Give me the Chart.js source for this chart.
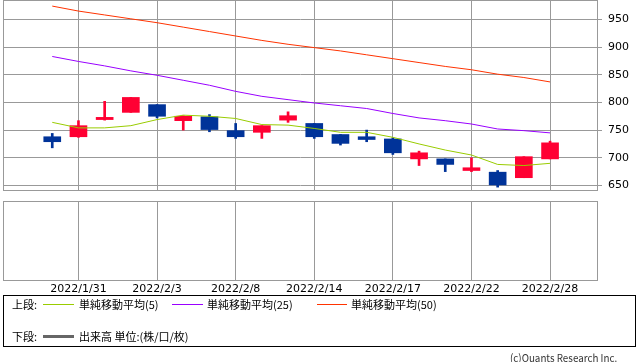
<!DOCTYPE html>
<html>
<head>
<meta charset="utf-8">
<script src="https://cdn.jsdelivr.net/npm/chart.js@4/dist/chart.umd.min.js"></script>
<style>
  body { margin: 0; background: #fff; width: 638px; height: 362px; overflow: hidden; position: relative; }
  #priceBox { position: absolute; left: 0; top: 0; width: 638px; height: 191px; }
  #volBox { position: absolute; left: 0; top: 196px; width: 638px; height: 102px; }
  .legend { position: absolute; left: 3px; top: 295px; width: 631px; height: 50px; border: 1px solid #000;
            font-family: "Noto Sans CJK JP", sans-serif; font-size: 11px; color: #000; }
  .legend span { position: absolute; white-space: nowrap; line-height: 13px; }
  .legend i { position: absolute; display: block; }
  .copy { position: absolute; left: 510px; top: 349px; font-family: "Noto Sans CJK JP", sans-serif; font-size: 11px;
          color: #333; white-space: nowrap; transform-origin: left top; }
</style>
</head>
<body>
<div id="priceBox"><canvas id="priceChart"></canvas></div>
<div id="volBox"><canvas id="volChart"></canvas></div>
<div class="legend">
  <span style="left:8px; top:2px;">上段:</span>
  <i style="left:39px; top:8px; width:31px; height:1px; background:#99cc00;"></i>
  <span style="left:75px; top:2px;">単純移動平均(5)</span>
  <i style="left:168px; top:8px; width:31px; height:1px; background:#9900ff;"></i>
  <span style="left:203px; top:2px;">単純移動平均(25)</span>
  <i style="left:313px; top:8px; width:30px; height:1px; background:#ff3300;"></i>
  <span style="left:347px; top:2px;">単純移動平均(50)</span>
  <span style="left:8px; top:34px;">下段:</span>
  <i style="left:39px; top:39px; width:31px; height:3px; background:#666;"></i>
  <span style="left:75px; top:34px;">出来高 単位:(株/口/枚)</span>
</div>
<div class="copy" id="copy">(c)Quants Research Inc.</div>
<script>
// Trading days shown on the chart
const dates = ['2022/1/28', '2022/1/31', '2022/2/1', '2022/2/2', '2022/2/3', '2022/2/4', '2022/2/7',
    '2022/2/8', '2022/2/9', '2022/2/10', '2022/2/14', '2022/2/15', '2022/2/16', '2022/2/17',
    '2022/2/18', '2022/2/21', '2022/2/22', '2022/2/24', '2022/2/25', '2022/2/28'];

// Candles
const open  = [738, 738, 769, 782, 796, 767, 774, 749, 746, 768, 762, 742, 738, 734, 698, 698, 677, 674, 664, 698];
const close = [729, 758, 773, 809, 775, 775, 751, 738, 758, 776, 738, 726, 733, 709, 709, 688, 682, 651, 702, 727];
const high  = [744, 767, 802, 809, 796, 776, 778, 762, 758, 783, 762, 742, 750, 736, 712, 698, 700, 677, 702, 730];
const low   = [718, 737, 768, 782, 772, 750, 747, 735, 735, 764, 735, 723, 729, 706, 686, 675, 675, 647, 664, 698];

// Simple moving averages
const ma5  = [764, 754, 754, 758, 769, 777, 775, 771, 760, 759, 753, 746, 746, 737, 725, 714, 705, 688, 686, 690];
const ma25 = [883, 874, 866, 857, 849, 840, 831, 820, 811, 805, 799, 794, 789, 780, 772, 767, 761, 752, 749, 745];
const ma50 = [974, 965, 958, 951, 944, 936, 928, 920, 912, 905, 899, 893, 886, 879, 872, 865, 859, 851, 845, 837];

// Axis ticks
const priceTicks = [650, 700, 750, 800, 850, 900, 950];
const dateTicks = [1, 4, 7, 10, 13, 16, 19];

const UP = '#ff0033';
const DOWN = '#003399';
const GRID = '#999999';

const candleColors = open.map((o, i) => close[i] >= o ? UP : DOWN);

// draw a gray frame round the plot area
const framePlugin = {
    id: 'frame',
    afterDraw(chart) {
        const a = chart.chartArea;
        const ctx = chart.ctx;
        ctx.save();
        ctx.strokeStyle = GRID;
        ctx.lineWidth = 1;
        ctx.strokeRect(Math.round(a.left) + 0.5, Math.round(a.top) + 0.5,
            Math.round(a.right - a.left) - 1, Math.round(a.bottom - a.top) - 1);
        ctx.restore();
    }
};

const xRange = { min: -1.88, max: 20.83 };

function xAxis(showLabels) {
    return {
        type: 'linear',
        min: xRange.min,
        max: xRange.max,
        offset: false,
        afterBuildTicks: axis => { axis.ticks = dateTicks.map(v => ({ value: v })); },
        grid: { color: GRID, drawTicks: false, offset: false },
        border: { display: false },
        ticks: {
            display: showLabels,
            padding: 2,
            color: '#000',
            font: { family: 'DejaVu Sans', size: 11 },
            maxRotation: 0,
            autoSkip: false,
            callback: v => dates[v]
        },
        afterFit: axis => { axis.paddingLeft = 0; axis.paddingRight = 0; }
    };
}

const linePts = arr => arr.map((v, i) => ({ x: i, y: v }));

new Chart(document.getElementById('priceChart'), {
    data: {
        datasets: [
            { type: 'line', data: linePts(ma5), borderColor: '#99cc00', borderWidth: 1, pointRadius: 0, order: 0 },
            { type: 'line', data: linePts(ma25), borderColor: '#9900ff', borderWidth: 1, pointRadius: 0, order: 0 },
            { type: 'line', data: linePts(ma50), borderColor: '#ff3300', borderWidth: 1, pointRadius: 0, order: 0 },
            {
                type: 'bar',
                data: high.map((h, i) => ({ x: i, y: [low[i], h] })),
                backgroundColor: candleColors,
                barThickness: 2,
                grouped: false,
                order: 2
            },
            {
                type: 'bar',
                data: open.map((o, i) => ({ x: i, y: [o, close[i]] })),
                backgroundColor: candleColors,
                barThickness: 17,
                grouped: false,
                order: 1
            }
        ]
    },
    options: {
        responsive: true,
        maintainAspectRatio: false,
        animation: false,
        events: [],
        layout: { padding: { left: 3, top: 0, bottom: 0, right: 0 } },
        plugins: { legend: { display: false }, tooltip: { enabled: false } },
        scales: {
            x: xAxis(false),
            y: {
                position: 'right',
                min: 640,
                max: 985,
                afterBuildTicks: axis => { axis.ticks = priceTicks.map(v => ({ value: v })); },
                afterFit: axis => { axis.width = 40; axis.paddingTop = 0; axis.paddingBottom = 0; },
                grid: { color: GRID, tickLength: 4 },
                border: { display: false },
                ticks: { padding: 6, color: '#000', font: { family: 'DejaVu Sans', size: 11 } }
            }
        }
    },
    plugins: [framePlugin]
});

// lower panel (volume) - empty in the picture
new Chart(document.getElementById('volChart'), {
    type: 'bar',
    data: { datasets: [] },
    options: {
        responsive: true,
        maintainAspectRatio: false,
        animation: false,
        events: [],
        layout: { padding: { left: 3, top: 5, bottom: 0, right: 40 } },
        plugins: { legend: { display: false }, tooltip: { enabled: false } },
        scales: {
            x: xAxis(true),
            y: { display: false, min: 0, max: 1 }
        }
    },
    plugins: [framePlugin]
});

// squeeze copyright text to its width in the picture
const copy = document.getElementById('copy');
copy.style.transform = 'scaleX(' + (107 / copy.offsetWidth) + ')';
</script>
</body>
</html>
